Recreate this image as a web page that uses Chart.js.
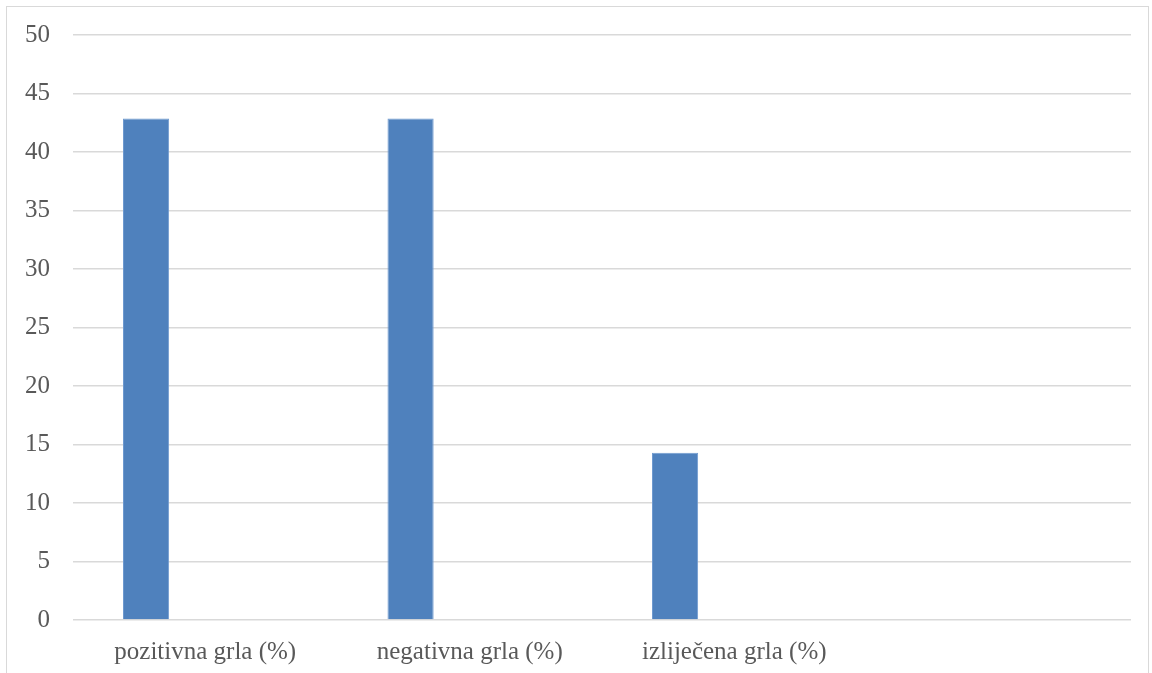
<!DOCTYPE html>
<html>
<head>
<meta charset="utf-8">
<script src="https://cdn.jsdelivr.net/npm/chart.js@4.4.1/dist/chart.umd.min.js"></script>
<style>
  html, body { margin: 0; padding: 0; background: #fff; }
  #frame {
    position: absolute; left: 6px; top: 6px; width: 1143px; height: 700px;
    border: 1px solid #d9d9d9; box-sizing: border-box;
  }
  #wrap { position: absolute; left: 0; top: 0; width: 1152px; height: 673px; }
</style>
</head>
<body>
<div id="frame"></div>
<div id="wrap"><canvas id="chart"></canvas></div>
<script>
  // categories and values
  const categories = ["pozitivna grla (%)", "negativna grla (%)", "izliječena grla (%)", ""];
  const shareValues = [42.86, 42.86, 14.29, null];
  const emptySeries = [null, null, null, null]; // second (empty) series in the original
  const yTicks = [0, 5, 10, 15, 20, 25, 30, 35, 40, 45, 50];

  const COLORS = {
    bar: "#4f81bd",
    grid: "#d9d9d9",
    text: "#595959"
  };
  const FONT = { family: "'Liberation Serif', 'Times New Roman', serif", size: 25 };

  new Chart(document.getElementById("chart"), {
    type: "bar",
    data: {
      labels: categories,
      datasets: [
        {
          label: "Udio",
          data: shareValues,
          backgroundColor: COLORS.bar,
          borderColor: "#6f9ad0",
          borderWidth: 1,
          categoryPercentage: 0.895,
          barPercentage: 0.39
        },
        {
          label: "",
          data: emptySeries,
          backgroundColor: COLORS.bar,
          categoryPercentage: 0.895,
          barPercentage: 0.39
        }
      ]
    },
    options: {
      responsive: true,
      maintainAspectRatio: false,
      animation: false,
      layout: { padding: { top: 35, right: 21, left: 0, bottom: 0 } },
      plugins: {
        legend: { display: false },
        tooltip: { enabled: false }
      },
      scales: {
        x: {
          grid: { display: false, drawTicks: false },
          border: { display: false },
          ticks: { color: COLORS.text, font: FONT, padding: 17, maxRotation: 0, autoSkip: false },
          afterFit: function (scale) { scale.height = 53; }
        },
        y: {
          min: 0,
          max: 50,
          afterBuildTicks: function (scale) {
            scale.ticks = yTicks.map(function (v) { return { value: v }; });
          },
          grid: { color: COLORS.grid, lineWidth: 1.5, drawTicks: false },
          border: { display: false },
          ticks: { color: COLORS.text, font: FONT, padding: 23 },
          afterFit: function (scale) {
            scale.width = 73;
            scale.paddingTop = 0;
            scale.paddingBottom = 0;
          }
        }
      }
    }
  });
</script>
</body>
</html>
